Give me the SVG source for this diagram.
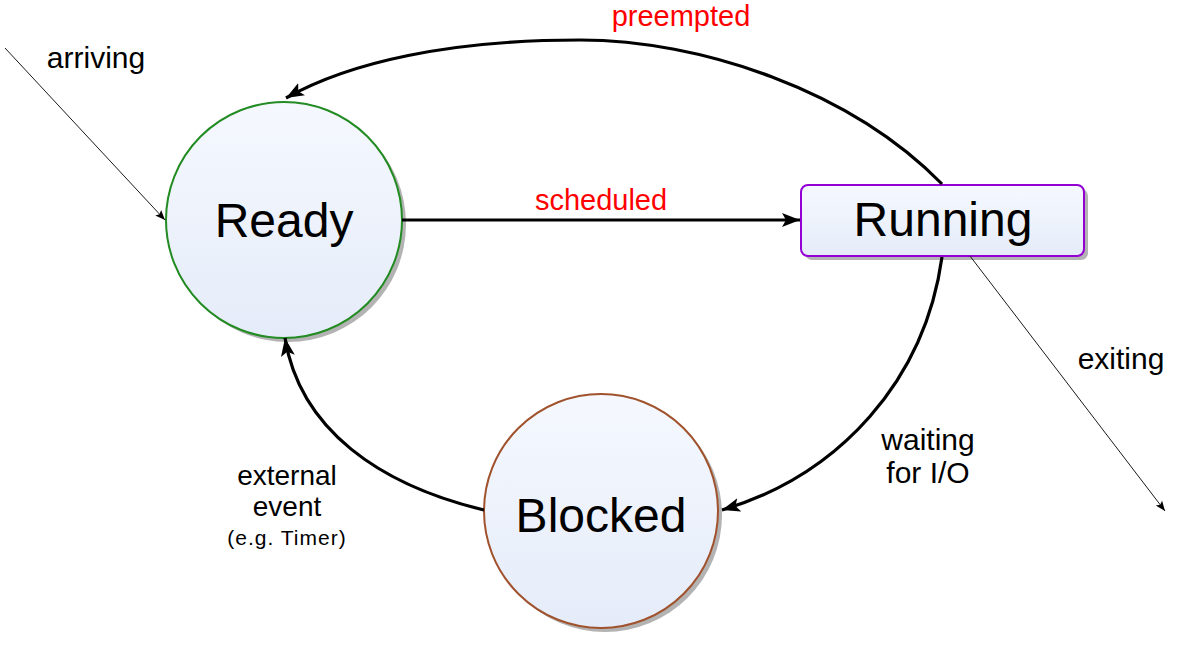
<svg xmlns="http://www.w3.org/2000/svg" width="1183" height="645" viewBox="0 0 1183 645">
<defs>
<linearGradient id="g" x1="0" y1="0" x2="0" y2="1">
<stop offset="0" stop-color="#f5f8fe"/>
<stop offset="1" stop-color="#e5ecf9"/>
</linearGradient>
<marker id="ah2" viewBox="0 0 10 10" refX="10" refY="5" markerWidth="10" markerHeight="10" markerUnits="userSpaceOnUse" orient="auto">
<path d="M0,1 L10,5 L0,9 L2,5 Z" fill="#000"/>
</marker>
<marker id="ah3" viewBox="0 0 18 14" refX="18" refY="7" markerWidth="18" markerHeight="14" markerUnits="userSpaceOnUse" orient="auto">
<path d="M0,0 L18,7 L0,14 L4,7 Z" fill="#000"/>
</marker>
</defs>
<style>
text{font-family:"Liberation Sans",Arial,sans-serif;fill:#000}
.big{font-size:48px;text-anchor:middle}
.lbl{font-size:30px}
.red{fill:#f00;font-size:29px}
.sm{font-size:28px}
.sh{fill:#b3b3b3}
.node{fill:url(#g);stroke-width:2}
.thick{fill:none;stroke:#000;stroke-width:3.2;marker-end:url(#ah3)}
.thin{fill:none;stroke:#000;stroke-width:0.9;marker-end:url(#ah2)}
</style>
<g id="ready">
<circle class="sh" cx="288" cy="224" r="118"/>
<circle class="node" cx="284" cy="220" r="118" stroke="#228b22"/>
<text class="big" x="284" y="237">Ready</text>
</g>
<g id="running">
<rect class="sh" x="805" y="189" width="283" height="71" rx="7"/>
<rect class="node" x="801" y="185" width="283" height="71" rx="7" stroke="#9400d3"/>
<text class="big" x="943" y="236">Running</text>
</g>
<g id="blocked">
<circle class="sh" cx="605" cy="515" r="117"/>
<circle class="node" cx="601" cy="511" r="117" stroke="#a0522d"/>
<text class="big" x="601" y="532">Blocked</text>
</g>
<g id="connectors">
<path class="thick" d="M402,220 L800,220"/>
<path class="thick" d="M942,184 C850,90 700,40 580,40 C450,40 350,62 286,98"/>
<path class="thick" d="M942,257 C925,380 840,475 722,510"/>
<path class="thick" d="M484,510 C380,485 300,430 285,338"/>
<path class="thin" d="M5,48 L165,220"/>
<path class="thin" d="M970,256 L1165,511"/>
</g>
<g id="labels">
<text class="lbl red" x="601" y="210" text-anchor="middle">scheduled</text>
<text class="lbl red" x="681" y="26" text-anchor="middle">preempted</text>
<text class="lbl" x="96" y="68" text-anchor="middle">arriving</text>
<text class="lbl" x="1121" y="369" text-anchor="middle">exiting</text>
<text class="lbl" x="928" y="450" text-anchor="middle">waiting</text>
<text class="lbl" x="928" y="483" text-anchor="middle">for I/O</text>
<text class="sm" x="287" y="485" text-anchor="middle">external</text>
<text class="sm" x="287" y="516" text-anchor="middle">event</text>
<text x="287" y="545" text-anchor="middle" style="font-size:21px;letter-spacing:1px">(e.g. Timer)</text>
</g>
</svg>
